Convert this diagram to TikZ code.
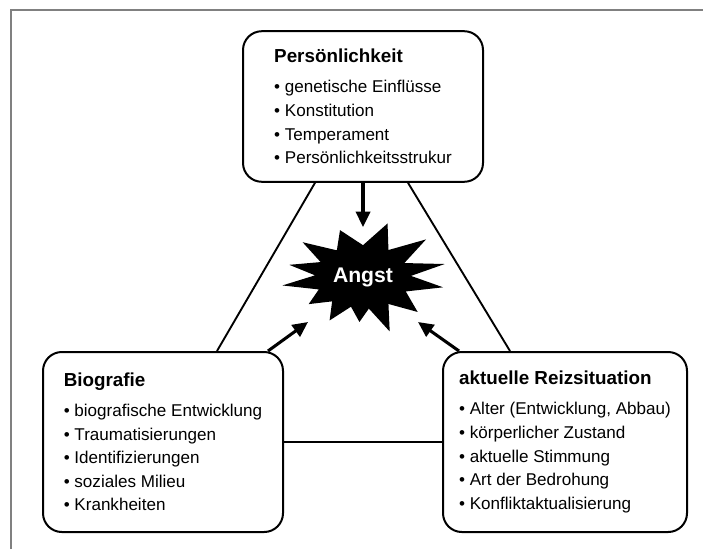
\documentclass[tikz,border=0pt]{standalone}
\usepackage{fontspec}
\setmainfont{Liberation Sans}
\usetikzlibrary{arrows.meta,calc}

\tikzset{
  box/.style={draw, line width=1.7pt, rounded corners=16pt, align=left, inner sep=0pt,
    font=\fontsize{14.5}{20}\selectfont},
  link/.style={line width=1.6pt},
  pfeil/.style={line width=2.6pt, -{Triangle[length=13pt,width=12pt]}},
}
\newcommand{\titel}[1]{{\fontsize{16}{20}\selectfont\bfseries #1}\\[5.5pt]}

\begin{document}
\begin{tikzpicture}[x=0.85pt, y=-0.85pt]
  \useasboundingbox (0,0) rectangle (703,549);

  % Rahmen
  \draw[gray, line width=1.2pt] (11,549) -- (11,10) -- (703,10);

  % Kaesten
  \node[box, minimum width=204pt, minimum height=128pt] (pers) at (363,106.5)
    {\titel{Persönlichkeit}• genetische Einflüsse\\• Konstitution\\• Temperament\\• Persönlichkeitsstrukur};
  \node[box, minimum width=204pt, minimum height=153pt] (bio) at (163,442)
    {\titel{Biografie}• biografische Entwicklung\\• Traumatisierungen\\• Identifizierungen\\• soziales Milieu\\• Krankheiten};
  \node[box, minimum width=207.4pt, minimum height=153pt] (reiz) at (565,442)
    {\titel{aktuelle Reizsituation}• Alter (Entwicklung, Abbau)\\• körperlicher Zustand\\• aktuelle Stimmung\\• Art der Bedrohung\\• Konfliktaktualisierung};

  % Dreieck
  \draw[link] ($(pers.south)+(-48,0)$) -- ($(bio.north)+(54,0)$);
  \draw[link] ($(pers.south)+(45,0)$) -- ($(reiz.north)+(-55,0)$);
  \draw[link] (bio.east) -- (reiz.west);

  % Stern
  \fill[shift={(363,277)}] (287:84 and 56)
    \foreach \w/\r in {302/0.6, 318/1.06, 333/0.58, 346.5/1.05, 358/0.6, 11/1.02, 27/0.6,
      44/0.95, 58/0.6, 72/1.08, 83/0.6, 93/0.85, 105/0.58, 117/0.92, 130/0.6, 143/0.85,
      157/0.6, 171/1.02, 183/0.6, 194/0.95, 208/0.6, 221/1.0, 237/0.6, 252/0.93, 270/0.6}
    { -- (\w:{80*\r} and {53*\r}) } -- cycle;
  \node[text=white, font=\bfseries\fontsize{18}{20}\selectfont] (angst) at (363,277) {Angst};

  % Pfeile
  \coordinate (spitzeO) at (363,227);
  \coordinate (spitzeL) at (308,322);
  \coordinate (spitzeR) at (418,322);
  \draw[pfeil] (pers.south) -- (spitzeO);
  \draw[pfeil] ($(bio.north east)+(-16,0)$) -- (spitzeL);
  \draw[pfeil] ($(reiz.north west)+(17,0)$) -- (spitzeR);
\end{tikzpicture}
\end{document}
